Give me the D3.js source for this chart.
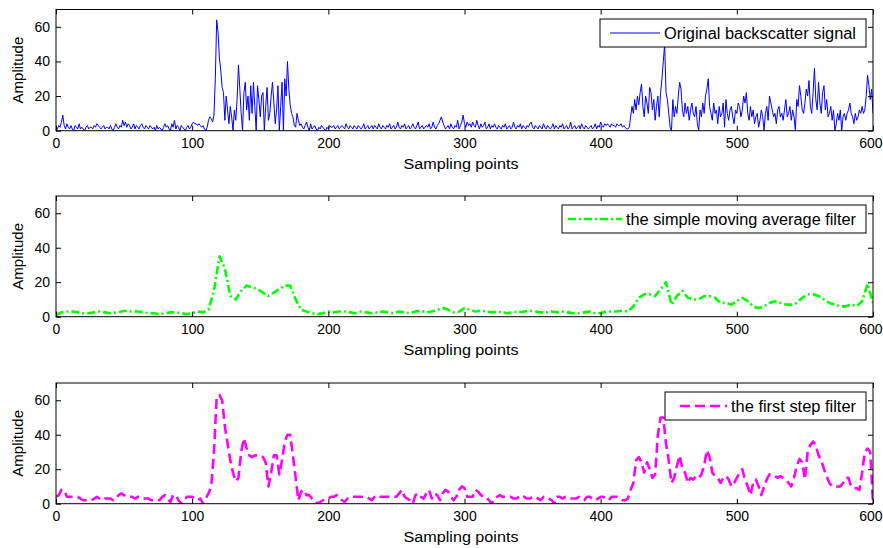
<!DOCTYPE html>
<html>
<head>
<meta charset="utf-8">
<script src="https://cdn.jsdelivr.net/npm/d3@7"></script>
<style>
  html, body { margin: 0; padding: 0; background: #fff; }
  svg { display: block; }
  text { font-family: "Liberation Sans", Arial, Helvetica, sans-serif; fill: #000; }
</style>
</head>
<body>
<svg id="chart" width="883" height="548"></svg>
<script>
// ---------------- DATA ----------------
const xTicks = [0, 100, 200, 300, 400, 500, 600];
const yTicks = [0, 20, 40, 60];
const xLabel = "Sampling points";
const yLabel = "Amplitude";
const seriesNames = ["Original backscatter signal", "the simple moving average filter", "the first step filter"];

// Original backscatter signal, one value per sampling point (0..600)
const originalStep = 1;
const originalSignal = [
  0,1,3,2,5,9,3,1,4,2,1,3,1,0,3,2,1,4,1,2,
  1,0,2,3,1,2,2,1,3,2,4,3,2,1,2,3,1,2,2,1,
  3,1,0,2,4,2,1,3,2,6,3,5,2,4,3,1,2,4,1,3,
  2,1,3,4,2,1,3,2,1,3,2,1,2,0,3,1,2,1,0,2,
  4,2,3,1,0,4,2,6,1,3,2,0,3,2,1,0,2,3,1,2,
  4,5,4,4,3,4,3,2,3,1,0,2,6,8,7,5,9,30,64,57,
  42,35,25,22,6,20,12,4,14,8,0,12,6,18,38,24,10,0,22,28,
  12,20,6,26,10,28,14,0,26,18,8,20,22,0,14,25,6,10,20,28,
  16,4,12,26,0,14,28,0,30,20,40,24,15,10,8,3,2,10,6,3,
  4,2,1,3,5,2,0,4,1,2,3,1,0,2,1,3,2,1,0,2,
  1,3,2,2,3,1,2,3,1,2,3,2,1,4,2,1,3,2,1,3,
  2,1,3,2,1,2,4,1,2,3,1,2,3,1,3,2,1,4,2,1,
  3,2,1,3,2,4,1,2,3,1,2,5,2,1,3,2,4,1,2,3,
  1,2,4,2,1,3,5,1,2,3,1,2,3,2,4,1,2,5,2,1,
  3,4,6,8,5,3,1,2,3,1,4,2,1,3,2,6,1,3,5,9,
  4,2,5,3,4,2,5,3,2,6,3,1,4,2,3,5,1,2,4,1,
  3,2,4,2,1,3,2,1,3,2,4,1,2,3,1,2,5,2,1,3,
  2,4,1,3,2,1,3,2,4,5,2,1,3,2,1,3,2,1,4,2,
  1,3,2,1,2,4,1,3,2,1,3,2,4,1,2,3,1,2,5,1,
  2,3,1,2,3,1,4,2,1,3,2,1,2,3,1,2,4,1,3,2,
  5,3,2,4,3,4,3,2,4,3,3,2,4,3,3,4,2,3,2,1,
  1,2,8,14,10,18,12,20,15,22,27,14,8,20,16,10,25,22,12,18,
  6,14,20,8,22,30,40,50,22,18,10,2,0,18,8,14,10,20,28,24,
  12,8,16,10,14,6,12,16,10,8,14,4,0,12,8,16,10,20,24,30,
  14,10,6,16,10,12,4,14,8,10,16,2,18,10,6,12,14,8,4,12,
  10,16,14,8,12,20,16,22,10,6,14,8,12,4,8,10,2,6,12,8,
  0,10,14,6,20,16,12,8,10,4,12,14,8,10,6,12,18,8,10,14,
  6,12,8,0,18,14,26,20,12,10,16,24,20,29,14,10,22,36,18,12,
  28,16,10,22,26,12,18,8,10,14,6,12,0,4,10,6,12,0,8,10,
  6,10,12,16,10,8,4,10,6,8,12,10,14,10,12,20,32,26,18,24,
  10
];

// Simple moving average filter, read every 4 sampling points (0..600)
const movingAvgStep = 4;
const movingAverage = [
  1,2.5,3,3,2.5,2,2,2.5,3,2.5,
  2,2.5,3,3.5,3,3,2.5,2,2,1.5,
  2,2.5,2.5,2,1.5,2,3,2.5,4,15,
  35,28,12,10,15,18,17,16,14,12,
  14,16,18,18,10,4,3,2,1.5,2,
  3,2.5,3,3,2.5,2,3,2.5,2,2.5,
  3,2.5,2,3,2.5,2,3,3.5,2.5,3,
  4,5,4,2.5,3,5,4,3,3.5,3,
  2.5,3,2.5,2,3,2.5,3,3.5,3,2.5,
  2.5,3,2.5,3,2.5,2,2,2.5,3,2,
  2,3,3,3,3.5,3,6,11,13,13,
  12,16,20,7,12,15,11,10,10,12,
  12,11,8,8,7,9,11,9,6,5,
  6,8,9,8,7,7,8,11,13,13,
  12,10,8,7,6,6,7,6,9,19,
  8
];

// First step filter, read every 2 sampling points (0..600)
const firstStepStep = 2;
const firstStepFilter = [
  4,5,8,8,4,4,4,4,4,3,2,2,2,2,3,4,3,2,3,3,
  3,2,3,5,6,5,4,4,4,3,4,4,3,3,3,2,2,2,2,4,
  5,3,1,5,5,2,0,1,4,4,4,3,2,3,0,3,6,10,30,62,
  63,60,45,35,25,18,13,15,30,38,32,28,27,28,28,28,27,24,10,18,
  28,28,17,25,36,40,40,28,15,2,7,8,5,5,3,2,0,1,2,3,
  3,4,4,5,4,2,1,3,3,4,4,4,4,4,4,3,2,4,5,4,
  4,4,4,4,4,4,6,8,4,3,2,0,5,6,4,3,6,8,3,6,
  5,2,6,8,7,4,2,4,8,10,9,4,4,4,8,7,5,4,4,2,
  0,3,4,5,4,4,4,4,3,3,4,5,4,3,3,4,4,3,2,4,
  4,3,2,0,4,4,3,4,4,3,3,3,4,3,2,4,4,3,2,3,
  4,4,3,2,4,4,4,3,2,2,3,8,12,25,27,24,18,24,20,15,
  17,40,50,50,35,25,12,15,22,28,20,18,12,15,14,16,15,17,22,31,
  27,18,16,15,12,15,16,14,10,12,15,18,20,14,10,5,12,14,10,5,
  10,14,17,17,16,15,16,15,14,12,10,15,22,26,24,14,30,34,36,34,
  28,25,20,16,12,10,10,10,10,12,15,15,10,9,9,8,18,30,32,30,
  0
];

// ---------------- LAYOUT ----------------
const svg = d3.select("#chart");
const left = 56, right = 873;
const panels = [
  { top: 9.5,  bottom: 130.7, data: originalSignal, step: originalStep, color: "#0000ff", width: 1, dash: null,
    legend: { x0: 600, y0: 19, x1: 866, y1: 47, lx0: 610, lx1: 660, tx: 664, tw: 192 } },
  { top: 196,  bottom: 316.7, data: movingAverage, step: movingAvgStep, color: "#00ff00", width: 2.6, dash: "8,3,2,3",
    legend: { x0: 562, y0: 205, x1: 866, y1: 233, lx0: 568, lx1: 622, tx: 626, tw: 230 } },
  { top: 383,  bottom: 503.7, data: firstStepFilter, step: firstStepStep, color: "#ff00ff", width: 2.6, dash: "10,5",
    legend: { x0: 665, y0: 392, x1: 866, y1: 420, lx0: 680, lx1: 727, tx: 731, tw: 125 } }
];

const x = d3.scaleLinear().domain([0, 600]).range([left, right]);

panels.forEach((p, i) => {
  const y = d3.scaleLinear().domain([0, 70]).range([p.bottom, p.top]);
  const g = svg.append("g");

  const clipId = "clip" + i;
  svg.append("clipPath").attr("id", clipId)
    .append("rect").attr("x", left).attr("y", p.top - 12).attr("width", right - left).attr("height", p.bottom - p.top + 12);

  // data line
  const line = d3.line().x((d, k) => x(k * p.step)).y(d => y(d));
  g.append("path")
    .datum(p.data)
    .attr("clip-path", `url(#${clipId})`)
    .attr("fill", "none")
    .attr("stroke", p.color)
    .attr("stroke-width", p.width)
    .attr("stroke-linejoin", "round")
    .attr("stroke-dasharray", p.dash)
    .attr("d", line);

  // axes (ticks inside, MATLAB style)
  const axB = g.append("g").attr("transform", `translate(0,${p.bottom})`)
    .call(d3.axisBottom(x).tickValues(xTicks).tickSizeInner(-5).tickSizeOuter(0).tickPadding(7).tickFormat(d3.format("d")));
  const axT = g.append("g").attr("transform", `translate(0,${p.top})`)
    .call(d3.axisTop(x).tickValues(xTicks).tickSizeInner(-5).tickSizeOuter(0).tickFormat(""));
  const axL = g.append("g").attr("transform", `translate(${left},0)`)
    .call(d3.axisLeft(y).tickValues(yTicks).tickSizeInner(-5).tickSizeOuter(0).tickPadding(6).tickFormat(d3.format("d")));
  const axR = g.append("g").attr("transform", `translate(${right},0)`)
    .call(d3.axisRight(y).tickValues(yTicks).tickSizeInner(-5).tickSizeOuter(0).tickFormat(""));
  [axB, axT, axL, axR].forEach(a => {
    a.selectAll(".domain").remove();
    a.selectAll("line").attr("stroke", "#000").attr("stroke-width", 1);
    a.selectAll("text").style("font-size", "14px").style("font-family", "'Liberation Sans', Arial, sans-serif").attr("fill", "#000");
  });
  axB.selectAll("text").attr("dy", "0.75em");
  // keep the last tick label inside the page
  axB.selectAll(".tick").filter(d => d === 600).select("text")
    .attr("text-anchor", "end").attr("x", 882 - right);

  // box
  g.append("rect")
    .attr("x", left).attr("y", p.top)
    .attr("width", right - left).attr("height", p.bottom - p.top)
    .attr("fill", "none").attr("stroke", "#000").attr("stroke-width", 1);

  // axis labels
  g.append("text")
    .attr("x", 461).attr("y", p.bottom + 38)
    .attr("text-anchor", "middle")
    .style("font-size", "15.5px")
    .attr("textLength", 115).attr("lengthAdjust", "spacingAndGlyphs")
    .text(xLabel);
  g.append("text")
    .attr("transform", `translate(23,${(p.top + p.bottom) / 2}) rotate(-90)`)
    .attr("text-anchor", "middle")
    .style("font-size", "15px")
    .text(yLabel);

  // legend
  const L = p.legend;
  g.append("rect")
    .attr("x", L.x0).attr("y", L.y0).attr("width", L.x1 - L.x0).attr("height", L.y1 - L.y0)
    .attr("fill", "#fff").attr("stroke", "#000").attr("stroke-width", 1);
  const ly = (L.y0 + L.y1) / 2;
  g.append("line")
    .attr("x1", L.lx0).attr("x2", L.lx1).attr("y1", ly).attr("y2", ly)
    .attr("stroke", p.color).attr("stroke-width", p.width).attr("stroke-dasharray", p.dash);
  g.append("text")
    .attr("x", L.tx).attr("y", ly + 5.5)
    .style("font-size", "16px")
    .attr("textLength", L.tw).attr("lengthAdjust", "spacingAndGlyphs")
    .text(seriesNames[i]);
});
</script>
</body>
</html>
